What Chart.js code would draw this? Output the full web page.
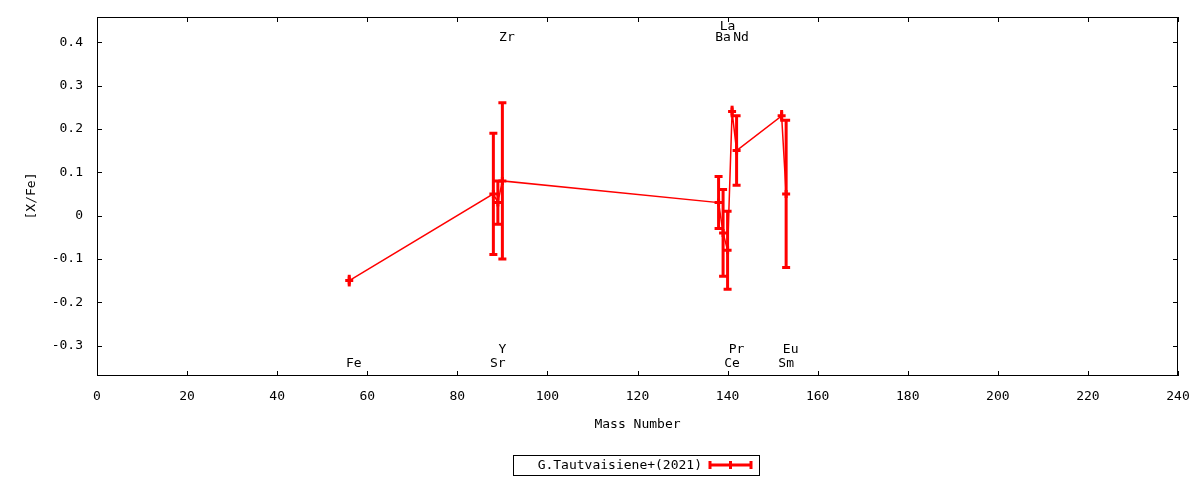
<!DOCTYPE html>
<html>
<head>
<meta charset="utf-8">
<script src="https://cdn.jsdelivr.net/npm/chart.js@4.4.1/dist/chart.umd.min.js"></script>
<style>
  body { margin: 0; background: #fff; }
  #wrap { width: 1200px; height: 480px; }
</style>
</head>
<body>
<div id="wrap"><canvas id="abund"></canvas></div>
<script>
// data
const elements   = ['Fe', 'Sr', 'Y', 'Zr', 'Ba', 'La', 'Ce', 'Pr', 'Nd', 'Sm', 'Eu'];
const massNumber = [56, 88, 89, 90, 138, 139, 140, 141, 142, 152, 153];
const xFe        = [-0.15, 0.05, 0.03, 0.08, 0.03, -0.04, -0.08, 0.24, 0.15, 0.23, 0.05];
const xFeErr     = [0.01, 0.14, 0.05, 0.18, 0.06, 0.10, 0.09, 0.01, 0.08, 0.01, 0.17];
const labelSide  = ['bottom', 'bottom', 'bottom', 'top', 'top', 'top', 'bottom', 'bottom', 'top', 'bottom', 'bottom'];
const xTicks = [0, 20, 40, 60, 80, 100, 120, 140, 160, 180, 200, 220, 240];
const yTicks = [-0.3, -0.2, -0.1, 0, 0.1, 0.2, 0.3, 0.4];
const seriesName = 'G.Tautvaisiene+(2021)';

const RED = '#ff0000';
const FONT = '"DejaVu Sans Mono", monospace';

// box, inward ticks, error bars, element labels, titles, legend
const gnuplotLook = {
  id: 'gnuplotLook',
  afterDatasetsDraw(chart) {
    const {ctx, chartArea: {left, right, top, bottom}, scales: {x, y}} = chart;
    ctx.save();

    // error bars (tiny ones just stretch the plus marker)
    ctx.strokeStyle = RED;
    ctx.lineWidth = 3;
    ctx.lineCap = 'butt';
    massNumber.forEach((m, i) => {
      const px = x.getPixelForValue(m);
      const hi = y.getPixelForValue(xFe[i] + xFeErr[i]);
      const lo = y.getPixelForValue(xFe[i] - xFeErr[i]);
      ctx.beginPath();
      if (lo - hi < 12) {
        ctx.moveTo(px, hi - 1.5); ctx.lineTo(px, lo + 1.5);
      } else {
        ctx.moveTo(px, hi); ctx.lineTo(px, lo);
        ctx.moveTo(px - 4, hi); ctx.lineTo(px + 4, hi);
        ctx.moveTo(px - 4, lo); ctx.lineTo(px + 4, lo);
      }
      ctx.stroke();
    });

    // border and ticks
    ctx.strokeStyle = '#000';
    ctx.lineWidth = 1;
    ctx.strokeRect(left + 0.5, top + 0.5, right - left - 1, bottom - top - 1);
    ctx.beginPath();
    x.ticks.forEach(t => {
      const px = Math.round(x.getPixelForValue(t.value)) + 0.5;
      ctx.moveTo(px, bottom); ctx.lineTo(px, bottom - 5);
      ctx.moveTo(px, top); ctx.lineTo(px, top + 5);
    });
    y.ticks.forEach(t => {
      const py = Math.round(y.getPixelForValue(t.value)) + 0.5;
      ctx.moveTo(left, py); ctx.lineTo(left + 5, py);
      ctx.moveTo(right, py); ctx.lineTo(right - 5, py);
    });
    ctx.stroke();

    // element labels, second row when crowding
    ctx.fillStyle = '#000';
    ctx.font = '13px ' + FONT;
    ctx.textAlign = 'center';
    ctx.textBaseline = 'middle';
    const lastRow0 = {top: -99, bottom: -99};
    massNumber.forEach((m, i) => {
      const side = labelSide[i];
      let row = 0;
      if (m - lastRow0[side] < 3) row = 1; else lastRow0[side] = m;
      const px = x.getPixelForValue(m + 1);
      const py = side === 'top' ? top + 21 - row * 11 : bottom - 12 - row * 14;
      ctx.fillText(elements[i], px, py);
    });

    // axis titles
    ctx.fillText('Mass Number', (left + right) / 2, 425);
    ctx.save();
    ctx.translate(32, 196);
    ctx.rotate(-Math.PI / 2);
    ctx.fillText('[X/Fe]', 0, 0);
    ctx.restore();

    // legend
    ctx.strokeRect(513.5, 455.5, 246, 20);
    ctx.textAlign = 'right';
    ctx.fillText(seriesName, 702, 466);
    ctx.strokeStyle = RED;
    ctx.lineWidth = 3;
    ctx.beginPath();
    ctx.moveTo(709, 465); ctx.lineTo(752, 465);
    ctx.moveTo(710, 461); ctx.lineTo(710, 469);
    ctx.moveTo(751, 461); ctx.lineTo(751, 469);
    ctx.moveTo(730.5, 461); ctx.lineTo(730.5, 469);
    ctx.stroke();

    ctx.restore();
  }
};

new Chart(document.getElementById('abund'), {
  type: 'line',
  data: {
    datasets: [{
      label: seriesName,
      data: massNumber.map((m, i) => ({x: m, y: xFe[i]})),
      borderColor: RED,
      backgroundColor: RED,
      borderWidth: 1.5,
      tension: 0,
      pointStyle: 'cross',
      pointRadius: 4,
      pointBorderWidth: 3,
      pointBorderColor: RED,
      pointHoverRadius: 4
    }]
  },
  options: {
    responsive: true,
    maintainAspectRatio: false,
    devicePixelRatio: 1,
    animation: false,
    layout: { padding: { top: 17, right: 22, bottom: 0, left: 0 } },
    plugins: {
      legend: { display: false },
      tooltip: { enabled: false }
    },
    scales: {
      x: {
        type: 'linear',
        min: 0,
        max: 240,
        afterBuildTicks: s => { s.ticks = xTicks.map(v => ({value: v})); },
        afterFit: s => { s.height = 104; s.paddingLeft = 0; s.paddingRight = 0; },
        grid: { display: false, drawTicks: false },
        border: { display: false },
        ticks: {
          color: '#000',
          padding: 13,
          maxRotation: 0,
          font: { family: FONT, size: 13 }
        }
      },
      y: {
        type: 'linear',
        min: -0.37,
        max: 0.458,
        afterBuildTicks: s => { s.ticks = yTicks.map(v => ({value: v})); },
        afterFit: s => { s.width = 97; s.paddingTop = 0; s.paddingBottom = 0; },
        grid: { display: false, drawTicks: false },
        border: { display: false },
        ticks: {
          color: '#000',
          padding: 14,
          font: { family: FONT, size: 13 },
          callback: v => (v === 0 ? '0' : v.toFixed(1))
        }
      }
    }
  },
  plugins: [gnuplotLook]
});
</script>
</body>
</html>
